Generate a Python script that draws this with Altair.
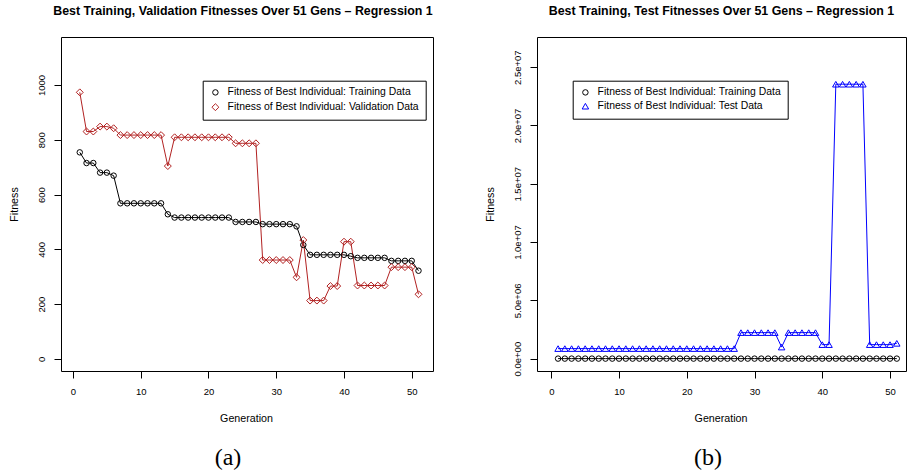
import altair as alt
import pandas as pd

FONT = "Liberation Sans"

generations = list(range(1, 52))

train_fit = [754, 715, 715, 680, 680, 669,
             568, 568, 568, 568, 568, 568, 568,
             528,
             516, 516, 516, 516, 516, 516, 516, 516, 516,
             500, 500, 500, 500,
             492, 492, 492, 492, 492,
             484, 416,
             380, 380, 380, 380, 380, 380,
             375,
             369, 369, 369, 369, 369,
             358, 358, 358, 358,
             322]

val_fit = [973, 830, 830, 848, 848, 842,
           817, 817, 817, 817, 817, 817, 817,
           704,
           809, 809, 809, 809, 809, 809, 809, 809, 809,
           787, 787, 787, 787,
           361, 361, 361, 361, 361,
           298, 434,
           213, 213, 213,
           266, 266,
           428, 428,
           268, 268, 268, 268, 268,
           335, 335, 335, 335,
           236]

test_fit = [860000, 860000, 860000, 860000, 860000, 860000, 860000, 860000, 860000,
            860000, 860000, 860000, 860000, 860000, 860000, 860000, 860000, 860000,
            860000, 860000, 860000, 860000, 860000, 860000, 860000, 860000, 860000,
            2230000, 2230000, 2230000, 2230000, 2230000, 2230000,
            990000,
            2230000, 2230000, 2230000, 2230000, 2230000,
            1200000, 1200000,
            23540000, 23540000, 23540000, 23540000, 23540000,
            1200000, 1200000, 1200000, 1200000,
            1310000]

x_ticks = [0, 10, 20, 30, 40, 50]
left_y_ticks = [0, 200, 400, 600, 800, 1000]
right_y_ticks = [0, 5000000, 10000000, 15000000, 20000000, 25000000]
right_y_labels = ["0.0e+00", "5.0e+06", "1.0e+07", "1.5e+07", "2.0e+07", "2.5e+07"]

L_TRAIN = "Fitness of Best Individual: Training Data"
L_VAL = "Fitness of Best Individual: Validation Data"
L_TEST = "Fitness of Best Individual: Test Data"

title_left = "Best Training, Validation Fitnesses Over 51 Gens \u2013 Regression 1"
title_right = "Best Training, Test Fitnesses Over 51 Gens \u2013 Regression 1"

W_L, W_R, H = 372, 369, 334


def panel(series_a, series_b, name_b, color_b, shape_b, size_b, ydom, yticks,
          ylabel_expr, title, title_dx, leg_x, tag, tag_x, width, xdom, anchor):
    df = pd.DataFrame({
        "gen": generations + generations,
        "fit": series_a + series_b,
        "series": [L_TRAIN] * len(series_a) + [name_b] * len(series_b),
    })
    yaxis_kw = dict(values=yticks, title="Fitness", labelAngle=270, labelAlign="center",
                    labelBaseline="alphabetic", labelPadding=9.7,
                    titleAngle=270, titleBaseline="alphabetic", titleAlign="center",
                    titleX=-43.5, titleY=H / 2)
    if ylabel_expr:
        yaxis_kw["labelExpr"] = ylabel_expr
    else:
        yaxis_kw["format"] = "d"
    x = alt.X("gen:Q", scale=alt.Scale(domain=xdom, nice=False, zero=False),
              axis=alt.Axis(values=x_ticks, title="Generation", labelPadding=8.5,
                            titleBaseline="alphabetic", titleX=width / 2 - 1, titleY=50))
    y = alt.Y("fit:Q", scale=alt.Scale(domain=ydom, nice=False, zero=False),
              axis=alt.Axis(**yaxis_kw))
    base = alt.Chart(df)
    line_a = base.transform_filter(alt.datum.series == L_TRAIN).mark_line(
        color="black", strokeWidth=1).encode(x=x, y=y)
    line_b = base.transform_filter(alt.datum.series == name_b).mark_line(
        color=color_b, strokeWidth=1).encode(x=x, y=y)
    legend = alt.Legend(title=None, orient="none", legendX=leg_x, legendY=43.7,
                        padding=6.5, fillColor="white", strokeColor="black",
                        cornerRadius=0, labelFont=FONT, labelFontSize=10.4,
                        labelColor="black", labelLimit=0, symbolSize=36,
                        symbolStrokeWidth=1, labelOffset=7, rowPadding=2.8,
                        symbolOffset=1)
    dom = [L_TRAIN, name_b]
    pts = base.mark_point(filled=False, strokeWidth=1, opacity=1).encode(
        x=x, y=y,
        color=alt.Color("series:N", scale=alt.Scale(domain=dom, range=["black", color_b]),
                        legend=legend),
        shape=alt.Shape("series:N", scale=alt.Scale(domain=dom, range=["circle", shape_b]),
                        legend=legend),
        size=alt.Size("series:N", scale=alt.Scale(domain=dom, range=[30, size_b]),
                      legend=None),
    )
    tag_df = pd.DataFrame({"tag": [tag]})
    tag_text = alt.Chart(tag_df).mark_text(
        font="Liberation Serif", fontSize=24, baseline="middle", align="center",
        color="black").encode(x=alt.value(tag_x), y=alt.value(421), text="tag:N")
    layers = [line_a, line_b, pts, tag_text]
    if anchor:
        anc = alt.Chart(tag_df).mark_rect(opacity=0).encode(
            x=alt.value(-60), x2=alt.value(-59), y=alt.value(0), y2=alt.value(1))
        layers.append(anc)
    return alt.layer(*layers).properties(
        width=width, height=H,
        title=alt.TitleParams(text=title, dx=title_dx))


left = panel(train_fit, val_fit, L_VAL, "#B22222", "diamond", 48,
             [-44, 1175], left_y_ticks, None, title_left, -4, 141.7, "(a)", 167,
             W_L, [-1.77, 53.14], True)

label_list = "[" + ",".join("'%s'" % s for s in right_y_labels) + "]"
right = panel(train_fit, test_fit, L_TEST, "#0000FF", "triangle-up", 42,
              [-1062000, 27590000], right_y_ticks,
              label_list + "[round(datum.value / 5000000)]",
              title_right, 0, 35.7, "(b)", 171, W_R, [-2.11, 52.36], False)

chart = alt.hconcat(left, right, spacing=104, bounds="flush").resolve_scale(
    color="independent", shape="independent", size="independent", x="independent",
    y="independent").resolve_legend(color="independent", shape="independent",
                                   size="independent").properties(
    padding={"left": 0, "top": 4, "right": 0, "bottom": 0}
).configure_view(stroke="black", strokeWidth=1).configure_axis(
    domain=False, grid=False, tickColor="black", tickSize=7, tickWidth=1,
    labelFont=FONT, labelFontSize=9.5, labelColor="black",
    titleFont=FONT, titleFontSize=10.7, titleFontWeight="normal", titleColor="black"
).configure_title(font=FONT, fontSize=12.4, fontWeight="bold", color="black",
                  anchor="middle", frame="group", baseline="alphabetic", offset=20)

chart.save("out.html", embed_options={"renderer": "svg", "actions": False})
